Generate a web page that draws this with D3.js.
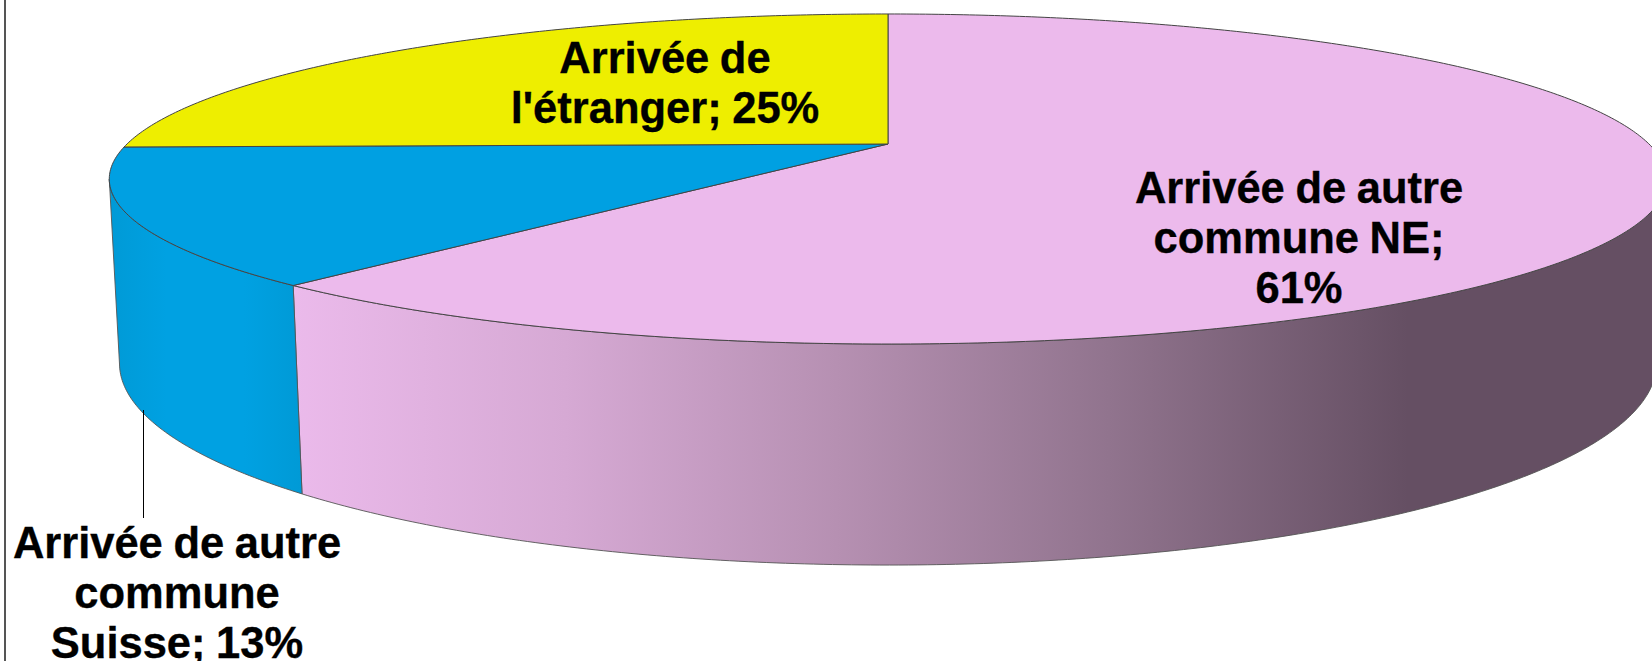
<!DOCTYPE html>
<html>
<head>
<meta charset="utf-8">
<script src="https://cdn.jsdelivr.net/npm/d3@7"></script>
<style>
	html, body { margin: 0; padding: 0; background: #fff; overflow: hidden; }
	text { font-family: "Liberation Sans", Arial, sans-serif; font-weight: bold; fill: #000; stroke: #000; stroke-width: 0.35px; word-spacing: -1.5px; }
</style>
</head>
<body>
<div id="chart"></div>
<script>
let CHART_WIDTH = 1652;
let CHART_HEIGHT = 661;

// shares, clockwise from 12 o'clock. labels only show the rounded number
var categories = ["Arrivée de autre commune NE", "Arrivée de autre commune Suisse", "Arrivée de l'étranger"];
var values = [61.4, 13.3, 25.3];
var top_colors = ["#ecbaec", "#00a0e2", "#eeee00"];
var label_lines = [
	["Arrivée de autre", "commune NE;", "{p}"],
	["Arrivée de autre", "commune", "Suisse; {p}"],
	["Arrivée de", "l'étranger; {p}"]
];

// gradient on the front wall of each slice
var pink_wall_offsets = [0, 0.2, 0.4, 0.6, 0.82, 1];
var pink_wall_colors = ["#ebbaeb", "#d6a9d4", "#b690b2", "#91748e", "#654f63", "#654f63"];
var blue_wall_offsets = [0, 0.3, 0.7, 1];
var blue_wall_colors = ["#009ad6", "#00a1e2", "#00a1e2", "#009ad6"];

// layout of the labels: centre x, first baseline
var label_x = [1299, 177, 665];
var label_y = [203, 558, 73];
var LINE_STEP = 50;

// perspective of the disc, fitted on the rim of the picture
const CX = 888, APEX_Y = 144, RX = 761, RY = 157.6, DEPTH = 179.5, K = 0.2121, M = 0.0127;

const project = (angle, z) => {
	var a = Math.sin(angle);
	var b = Math.cos(angle);
	var w = 1 + K * b + M * z;
	return [CX + RX * a / w, APEX_Y + (-RY * b + DEPTH * z) / w];
};

const sampleAngles = (a0, a1) => {
	var n = Math.max(2, Math.ceil(Math.abs(a1 - a0) / 0.01));
	return d3.range(n + 1).map(i => a0 + (a1 - a0) * i / n);
};

const visualizePie = () => {
	var svg = d3.select("#chart").append("svg")
		.attr("width", CHART_WIDTH)
		.attr("height", CHART_HEIGHT)
		.style("display", "block");

	var pie = d3.pie().sort(null).value(d => d)(values);
	var line = d3.line();

	// silhouette of the top ellipse, the walls are only visible between those angles
	var wallStart = Math.PI / 2 + Math.asin(K);
	var wallEnd = 3 * Math.PI / 2 - Math.asin(K);

	var defs = svg.append("defs");
	var addGradient = (id, x1, x2, offsets, colors) => {
		var g = defs.append("linearGradient")
			.attr("id", id)
			.attr("gradientUnits", "userSpaceOnUse")
			.attr("x1", x1).attr("x2", x2).attr("y1", 0).attr("y2", 0);
		offsets.forEach((o, i) => g.append("stop").attr("offset", o).attr("stop-color", colors[i]));
	};
	var pinkEnd = project(pie[0].endAngle, 0)[0];
	var blueStart = project(wallEnd, 0)[0];
	addGradient("wall0", pinkEnd, CHART_WIDTH, pink_wall_offsets, pink_wall_colors);
	addGradient("wall1", blueStart, pinkEnd + 8, blue_wall_offsets, blue_wall_colors);

	// walls
	pie.forEach((d, i) => {
		var a0 = Math.max(d.startAngle, wallStart);
		var a1 = Math.min(d.endAngle, wallEnd);
		if (a1 <= a0) return;
		var rim = sampleAngles(a0, a1);
		var pts = rim.map(t => project(t, 0)).concat(rim.slice().reverse().map(t => project(t, 1)));
		svg.append("path")
			.attr("class", "wall")
			.attr("d", line(pts) + "Z")
			.attr("fill", "url(#wall" + i + ")")
			.attr("stroke", "#555")
			.attr("stroke-width", 0.9)
			.attr("stroke-linejoin", "round");
	});

	// top of the disc
	svg.selectAll(".slice")
		.data(pie)
		.enter().append("path")
		.attr("class", "slice")
		.attr("d", d => {
			var pts = sampleAngles(d.startAngle, d.endAngle).map(t => project(t, 0));
			return line([[CX, APEX_Y]].concat(pts)) + "Z";
		})
		.attr("fill", (d, i) => top_colors[i])
		.attr("stroke", "#444")
		.attr("stroke-width", 1)
		.attr("stroke-linejoin", "round");

	// frame on the left and leader of the outside label
	svg.append("line")
		.attr("x1", 5).attr("x2", 5)
		.attr("y1", 0).attr("y2", CHART_HEIGHT)
		.attr("stroke", "#555").attr("stroke-width", 2);
	svg.append("line")
		.attr("x1", 143.5).attr("x2", 143.5)
		.attr("y1", 410).attr("y2", 518)
		.attr("stroke", "#000").attr("stroke-width", 1);

	// labels
	var fmt = d3.format(".0f");
	var labels = svg.selectAll(".label")
		.data(pie)
		.enter().append("text")
		.attr("class", "label")
		.attr("text-anchor", "middle")
		.attr("font-size", 43.5)
		.attr("aria-label", d => categories[d.index]);

	labels.selectAll("tspan")
		.data(d => label_lines[d.index].map((s, j) => ({
			text: s.replace("{p}", fmt(values[d.index]) + "%"),
			x: label_x[d.index],
			y: label_y[d.index] + j * LINE_STEP
		})))
		.enter().append("tspan")
		.attr("x", d => d.x)
		.attr("y", d => d.y)
		.text(d => d.text);
};

visualizePie();
</script>
</body>
</html>
